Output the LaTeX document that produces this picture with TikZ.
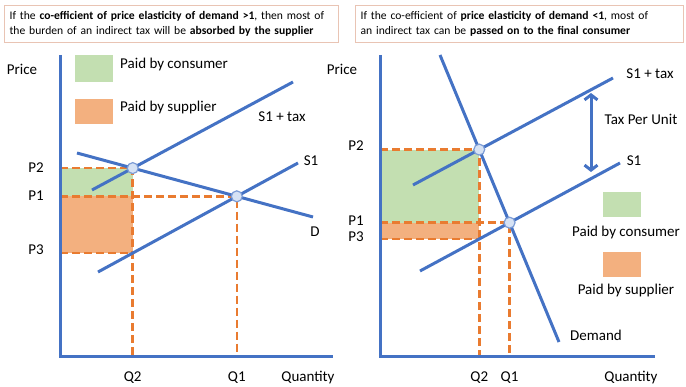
\documentclass[tikz,border=0pt]{standalone}
\usepackage{fontspec}
\setmainfont{Carlito}
\usetikzlibrary{arrows.meta,calc}
\definecolor{lineblue}{HTML}{4472C4}
\definecolor{guideorange}{HTML}{E97B30}
\definecolor{consumergreen}{HTML}{C3DFB1}
\definecolor{supplierorange}{HTML}{F3B07F}
\definecolor{boxedge}{HTML}{E9C4B4}
\definecolor{dotfill}{HTML}{D6E2F4}
\newcommand{\lblsize}{\fontsize{15}{17}\selectfont}

\begin{document}
\begin{tikzpicture}[x=1pt,y=-1pt,
  curve/.style={lineblue,line width=3pt},
  guide/.style={guideorange,line width=2.6pt,dash pattern=on 8pt off 4pt},
  eqdot/.style={circle,draw=lineblue!70,fill=dotfill,line width=1.2pt,inner sep=0pt,minimum size=11pt},
  lbl/.style={font=\lblsize,inner sep=1pt},
  note/.style={draw=boxedge,line width=1.2pt,fill=white,anchor=north west,minimum height=37pt,
    align=left,inner xsep=5pt,inner ysep=3pt,font=\fontsize{11.6}{15}\selectfont}]
\useasboundingbox (0,0) rectangle (686,387);

% headers
\node[note,text width=324pt] (hl) at (4,5)
  {If the \textbf{co-efficient of price elasticity of demand >1}, then most of\\
   the burden of an indirect tax will be \textbf{absorbed by the supplier}};
\node[note,text width=318pt] (hr) at (355,5)
  {If the co-efficient of \textbf{price elasticity of demand <1}, most of\\
   an indirect tax can be \textbf{passed on to the final consumer}};

%%%% left chart (elastic demand)
\coordinate (lo) at (60,357);
\coordinate (ly) at (60,55);
\coordinate (lx) at (333,357);
\coordinate (ld1) at (77,153);
\coordinate (ld2) at (313,217);
\coordinate (lt1) at (92,190);
\coordinate (lt2) at (293,82);
\coordinate (ls1) at (98,272);
\coordinate (ls2) at (298,163);
\coordinate (le2) at (intersection of ld1--ld2 and lt1--lt2);
\coordinate (le1) at (intersection of ld1--ld2 and ls1--ls2);
\coordinate (lq2) at (le2 |- lo);
\coordinate (lq1) at (le1 |- lo);
\coordinate (le3) at (intersection of ls1--ls2 and le2--lq2);

\fill[consumergreen] (ly |- le2) rectangle (le2 |- le1);
\fill[supplierorange] (ly |- le1) rectangle (le3);
\draw[guide] (ly |- le2) -- (le2) -- (lq2);
\draw[guide] (ly |- le1) -- (le1) -- (lq1);
\draw[guide] (ly |- le3) -- (le3);

\draw[curve] (ly) -- (lo) -- (lx);
\draw[curve] (ld1) -- (ld2);
\draw[curve] (lt1) -- (lt2);
\draw[curve] (ls1) -- (ls2);
\foreach \h in {le2,le1}{
\node[eqdot] at (\h) {};
}

% legend
\fill[consumergreen] (75,55) rectangle (113,82);
\fill[supplierorange] (75,99) rectangle (113,124);
\node[lbl,anchor=west] (lgc) at (119,65) {Paid by consumer};
\node[lbl,anchor=west] (lgs) at (119,108) {Paid by supplier};

\node[lbl] (lprice) at (22,69) {Price};
\node[lbl] (lp2) at (36,168) {P2};
\node[lbl] (lp1) at (36,196) {P1};
\node[lbl] (lp3) at (36,250) {P3};
\node[lbl] at ($(lq2)+(0,21)$) {Q2};
\node[lbl] at ($(lq1)+(0,21)$) {Q1};
\node[lbl] (lqty) at (308,378) {Quantity};
\node[lbl] (ltax) at (282,117) {S1 + tax};
\node[lbl] (ls) at (311,161) {S1};
\node[lbl] (ld) at (315,232) {D};

%%%% right chart (inelastic demand)
\coordinate (ro) at (380,357);
\coordinate (ry) at (380,55);
\coordinate (rx) at (655,357);
\coordinate (rd1) at (440,55);
\coordinate (rd2) at (559,342);
\coordinate (rt1) at (413,185);
\coordinate (rt2) at (613,78);
\coordinate (rs1) at (420,271);
\coordinate (rs2) at (620,163);
\coordinate (re2) at (intersection of rd1--rd2 and rt1--rt2);
\coordinate (re1) at (intersection of rd1--rd2 and rs1--rs2);
\coordinate (rq2) at (re2 |- ro);
\coordinate (rq1) at (re1 |- ro);
\coordinate (re3) at (intersection of rs1--rs2 and re2--rq2);

\fill[consumergreen] (ry |- re2) rectangle (re2 |- re1);
\fill[supplierorange] (ry |- re1) rectangle (re3);
\draw[guide] (ry |- re2) -- (re2) -- (rq2);
\draw[guide] (ry |- re1) -- (re1) -- (rq1);
\draw[guide] (ry |- re3) -- (re3);

\draw[curve] (ry) -- (ro) -- (rx);
\draw[curve] (rd1) -- (rd2);
\draw[curve] (rt1) -- (rt2);
\draw[curve] (rs1) -- (rs2);
\foreach \h in {re2,re1}{
\node[eqdot] at (\h) {};
}

% tax wedge
\coordinate (taxtop) at (591,93);
\coordinate (taxbot) at (591,172);
\draw[curve,{Straight Barb[length=5pt,width=13pt]}-{Straight Barb[length=5pt,width=13pt]}] (taxtop) -- (taxbot);
\node[lbl] (rtaxunit) at (641,119) {Tax Per Unit};

% legend
\fill[consumergreen] (603,192) rectangle (641,217);
\fill[supplierorange] (603,252) rectangle (641,277);
\node[lbl] (rgc) at (626,233) {Paid by consumer};
\node[lbl] (rgs) at (626,291) {Paid by supplier};

\node[lbl] (rprice) at (342,69) {Price};
\node[lbl] (rp2) at (356,146) {P2};
\node[lbl] (rp1) at (356,221) {P1};
\node[lbl] (rp3) at (356,237) {P3};
\node[lbl] at ($(rq2)+(0,21)$) {Q2};
\node[lbl] at ($(rq1)+(0,21)$) {Q1};
\node[lbl] (rqty) at (631,378) {Quantity};
\node[lbl] (rtax) at (650,74) {S1 + tax};
\node[lbl] (rs) at (634,161) {S1};
\node[lbl] (rd) at (596,335) {Demand};
\end{tikzpicture}
\end{document}
